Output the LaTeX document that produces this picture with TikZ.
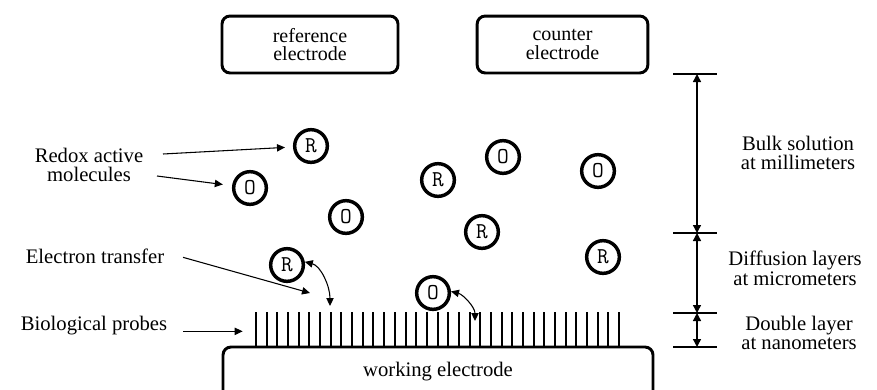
\documentclass[tikz,border=0pt]{standalone}
\usepackage{fontspec}
\setmainfont{Liberation Serif}
\usetikzlibrary{arrows.meta}
\begin{document}
\begin{tikzpicture}[x=0.75pt,y=-0.75pt,
  lbl/.style={font=\fontsize{15.5}{14.8}\selectfont, align=center, inner sep=0pt},
  elbox/.style={draw, line width=2.2pt, rounded corners=6pt, inner sep=0pt,
    align=center, font=\fontsize{15}{13.6}\selectfont},
  mol/.style={circle, draw, line width=2.6pt, minimum size=24.5pt, inner sep=0pt,
    font=\ttfamily\fontsize{17}{17}\selectfont},
  tip/.style={-{Triangle[length=6pt,width=5.5pt]}},
  dtip/.style={{Triangle[length=6pt,width=6pt]}-{Triangle[length=6pt,width=6pt]}},
  lead/.style={line width=0.8pt, tip},
  swap/.style={line width=0.8pt, {Triangle[length=6pt,width=5.5pt]}-{Triangle[length=6pt,width=5.5pt]}},
  tick/.style={line width=1pt},
  probe/.style={line width=1.5pt}
]
\useasboundingbox (0,0) rectangle (877,389);
\clip (0,0) rectangle (877,389);

% electrodes at the top
\node[elbox, minimum width=132pt, minimum height=42.7pt] (ref) at (310,44.5)
  {reference\\electrode};
\node[elbox, minimum width=128pt, minimum height=42.7pt] (cnt) at (562.5,44.5)
  {counter\\electrode};

% probes standing on the working electrode
\foreach \i in {0,...,34}
  \draw[probe] ({256+\i*10.68},312) -- ({256+\i*10.68},348);

% working electrode (runs past the lower edge)
\node[elbox, font=\fontsize{15.5}{15}\selectfont, minimum width=322.5pt, minimum height=42pt,
  text height=10pt, text depth=8pt] (we) at (438,375) {working electrode};

% redox molecules
\node[mol] (m1) at (311,146) {R};
\node[mol] (m2) at (250,188) {O};
\node[mol] (m3) at (438,180) {R};
\node[mol] (m4) at (503,157) {O};
\node[mol] (m5) at (598,171) {O};
\node[mol] (m6) at (346,217) {O};
\node[mol] (m7) at (482,232) {R};
\node[mol] (m8) at (603,257) {R};
\node[mol] (m9) at (287,265) {R};
\node[mol] (m10) at (433,293) {O};

% left labels
\node[lbl] (redox) at (89,165) {Redox active\\molecules};
\node[lbl] (et) at (95,256) {Electron transfer};
\node[lbl] (bio) at (94,326) {Biological probes};

\coordinate (rA) at (163,154);
\coordinate (rB) at (157,176);
\coordinate (etTip) at (310,293);
\coordinate (sw1) at (330,306);
\coordinate (sw2) at (475,321);

\draw[lead, shorten >=6pt] (rA) -- (m1);
\draw[lead, shorten >=7pt] (rB) -- (m2);
\draw[lead] ([xshift=14pt,yshift=-1pt]et.east) -- (etTip);
\draw[lead] ([xshift=12pt,yshift=-4pt]bio.east) -- ([xshift=-10pt,yshift=-4pt]bio.east -| 256,0);

% electron exchange between molecules and probes
\draw[swap] (m9.10) .. controls +(16,4) and +(0,-20) .. (sw1);
\draw[swap] (m10.5) .. controls +(12,3) and +(0,-14) .. (sw2);

% layer scale on the right
\coordinate (d1) at (697,74);
\coordinate (d2) at (697,233);
\coordinate (d3) at (697,313);
\coordinate (d4) at (697,347);
\foreach \c in {d1,d2,d3,d4}
  \draw[tick] ([xshift=-18pt]\c) -- ([xshift=15pt]\c);
\draw[line width=1pt, dtip] (d1) -- (d2);
\draw[line width=1pt, dtip] (d2) -- (d3);
\draw[line width=1pt, dtip] (d3) -- (d4);

\node[lbl] (bulk) at (798,153) {Bulk solution\\at millimeters};
\node[lbl] (diff) at (795,268) {Diffusion layers\\at micrometers};
\node[lbl] (dbl) at (799,333) {Double layer\\at nanometers};
\end{tikzpicture}
\end{document}
